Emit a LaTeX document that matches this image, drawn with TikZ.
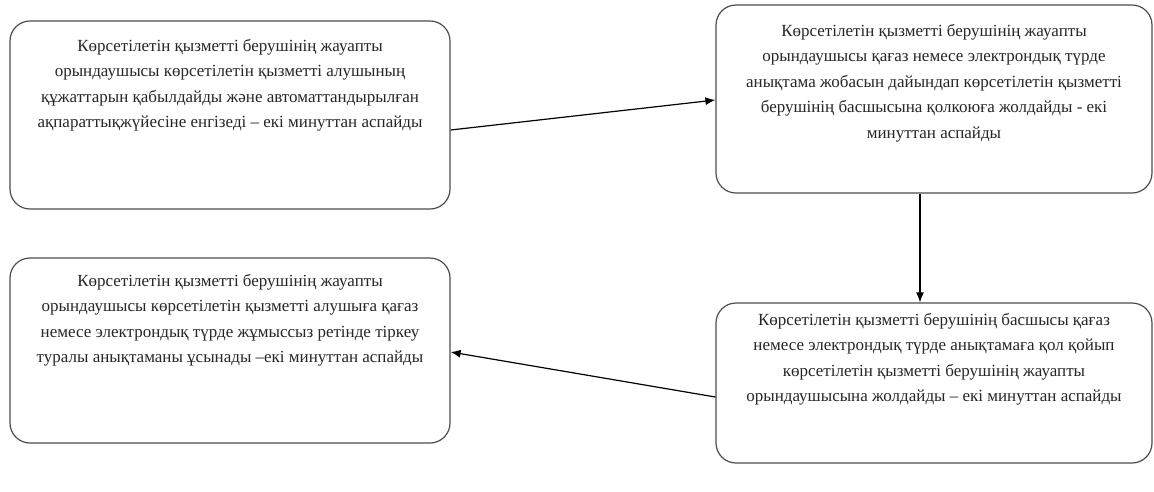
\documentclass[tikz,border=0pt]{standalone}
\usepackage{fontspec}
\setmainfont{Liberation Serif}
\usepackage{tikz}
\usetikzlibrary{arrows.meta}

\begin{document}
\begin{tikzpicture}[x=1pt, y=-1pt,
	stepbox/.style={shape=rectangle, draw=black!70, line width=1.2pt, rounded corners=20pt},
	steptext/.style={anchor=north, align=center, font=\fontsize{17}{25.5}\selectfont, text=black!85},
	flow/.style={-{Latex[length=10pt,width=8pt]}, line width=1.2pt}]
	
	\useasboundingbox (0,0) rectangle (1154,491);
	
	\node[stepbox, minimum width=440pt, minimum height=188pt] (b1) at (230, 115)   {};
	\node[stepbox, minimum width=436pt, minimum height=188pt] (b2) at (934, 99)    {};
	\node[stepbox, minimum width=440pt, minimum height=185pt] (b3) at (230, 350.5) {};
	\node[stepbox, minimum width=436pt, minimum height=160pt] (b4) at (934, 383)   {};
	
	\node[steptext] (t1) at ([yshift=-15pt]b1.north) {Көрсетілетін қызметті берушінің жауапты\\ орындаушысы көрсетілетін қызметті алушының\\ құжаттарын қабылдайды және автоматтандырылған\\ ақпараттықжүйесіне енгізеді – екі минуттан аспайды};
	\node[steptext] (t2) at ([yshift=-16pt]b2.north) {Көрсетілетін қызметті берушінің жауапты\\ орындаушысы қағаз немесе электрондық түрде\\ анықтама жобасын дайындап көрсетілетін қызметті\\ берушінің басшысына қолкоюға жолдайды - екі\\ минуттан аспайды};
	\node[steptext] (t3) at ([yshift=-13pt]b3.north) {Көрсетілетін қызметті берушінің жауапты\\ орындаушысы көрсетілетін қызметті алушыға қағаз\\ немесе электрондық түрде жұмыссыз ретінде тіркеу\\ туралы анықтаманы ұсынады –екі минуттан аспайды};
	\node[steptext] (t4) at ([yshift=-7pt]b4.north) {Көрсетілетін қызметті берушінің басшысы қағаз\\ немесе электрондық түрде анықтамаға қол қойып\\ көрсетілетін қызметті берушінің жауапты\\ орындаушысына жолдайды – екі минуттан аспайды};
	
	\path[flow] ([yshift=-15pt]b1.east) edge ([yshift=-1pt]b2.west);
	\path[flow] ([xshift=-14pt]b2.south) edge ([xshift=-14pt]b4.north);
	\path[flow] ([yshift=-14pt]b4.west) edge ([yshift=-1.5pt]b3.east);
	
\end{tikzpicture}
\end{document}
